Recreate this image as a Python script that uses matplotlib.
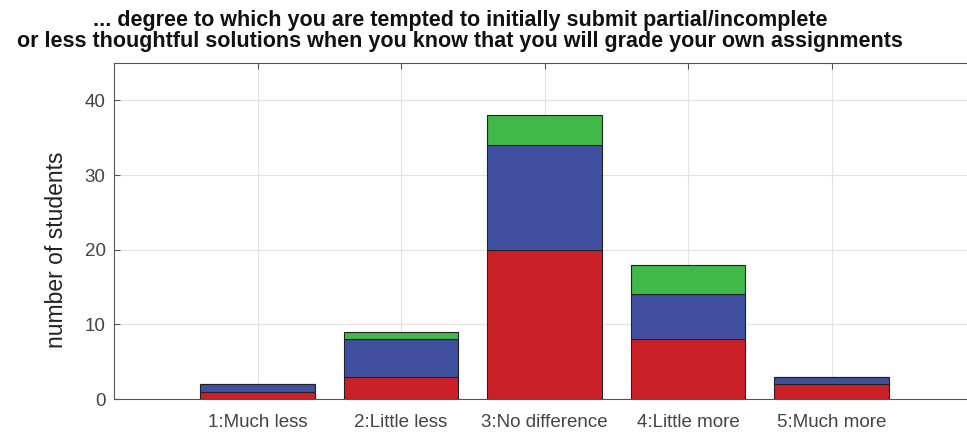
import numpy as np
import matplotlib
matplotlib.use('Agg')
import matplotlib.pyplot as plt

plt.rcParams['font.family'] = ['Liberation Sans', 'DejaVu Sans']

# survey answers, stacked in three groups
categories = ["1:Much less", "2:Little less", "3:No difference",
              "4:Little more", "5:Much more"]
red_vals   = [1, 3, 20, 8, 2]
blue_vals  = [1, 5, 14, 6, 1]
green_vals = [0, 1, 4, 4, 0]

colors = ["#CC2029", "#414FA0", "#40B84A"]
title = ("... degree to which you are tempted to initially submit partial/incomplete\n"
         "or less thoughtful solutions when you know that you will grade your own assignments")

fig = plt.figure(figsize=(9.67, 4.33), dpi=100)
ax = fig.add_axes([114 / 967, 1 - 399 / 433, (975 - 114) / 967, (399 - 63) / 433])

x = np.arange(1, len(categories) + 1)
bottom = np.zeros(len(categories))
for vals, c in zip([red_vals, blue_vals, green_vals], colors):
    ax.bar(x, vals, width=0.8, bottom=bottom, color=c,
           edgecolor="#222222", linewidth=0.8, zorder=3)
    bottom += np.array(vals)

ax.set_xlim(0, 6)
ax.set_ylim(0, 45)
ax.set_xticks(x)
ax.set_xticklabels(categories)
ax.set_yticks([0, 10, 20, 30, 40])
ax.grid(True, color="#e3e3e3", linewidth=0.8, zorder=0)
ax.tick_params(direction="in", length=4, top=True, colors="#555555",
               labelcolor="#444444", labelsize=13.5)
ax.tick_params(axis="x", pad=11)
ax.tick_params(axis="y", pad=6)
for s in ["left", "bottom", "top"]:
    ax.spines[s].set_color("#555555")
ax.spines["right"].set_visible(False)

ax.set_ylabel("number of students", fontsize=16.5, color="#222222")
ax.yaxis.set_label_coords(-0.053, 0.443)
fig.text(460 / 967, 1 - 31 / 433, title, fontsize=15.5, fontweight="bold",
         ha="center", va="center", linespacing=1.05, color="#111111")

fig.savefig("out.png", dpi=100)
